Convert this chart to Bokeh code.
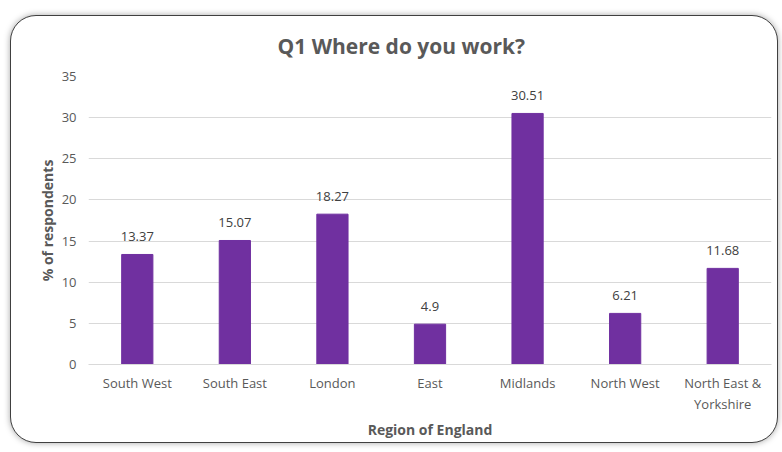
from bokeh.plotting import figure
from bokeh.models import ColumnDataSource, LabelSet, FixedTicker, Range1d
from bokeh.core.properties import value
from bokeh.embed import file_html
from bokeh.resources import INLINE

title_text = "Q1 Where do you work?"
regions = ["South West", "South East", "London", "East", "Midlands", "North West", "North East &\nYorkshire"]
percent = [13.37, 15.07, 18.27, 4.9, 30.51, 6.21, 11.68]
labels = ["13.37", "15.07", "18.27", "4.9", "30.51", "6.21", "11.68"]
y_ticks = [0, 5, 10, 15, 20, 25, 30, 35]

FONT = "Open Sans"
src = ColumnDataSource(data=dict(region=regions, pct=percent, lab=labels))

p = figure(x_range=regions, y_range=Range1d(0, 35), width=768, height=428,
           output_backend="svg", toolbar_location=None, title=title_text)
p.styles = {"border": "1.5px solid #404040", "border-radius": "26px",
            "box-shadow": "0px 0px 6px rgba(0,0,0,0.35)", "overflow": "hidden",
            "background": "white", "margin-left": "10px", "margin-top": "15px"}

p.vbar(x="region", top="pct", width=0.32, source=src, color="#7030A0")
p.add_layout(LabelSet(x="region", y="pct", text="lab", source=src, y_offset=13,
                      text_align="center", text_font_size="13px", text_font=value(FONT),
                      text_color="#404040"))

p.title.align = "left"
p.title.offset = 189
p.title.vertical_align = "top"
p.title.standoff = 30
p.title.text_font = FONT
p.title.text_font_size = "21px"
p.title.text_color = "#595959"
p.title.text_font_style = "bold"

p.min_border_left = 77
p.min_border_right = 8
p.min_border_top = 10
p.min_border_bottom = 80

p.outline_line_color = None
p.background_fill_color = None
p.border_fill_color = None

p.xgrid.grid_line_color = None
p.ygrid.grid_line_color = "#d9d9d9"
p.yaxis.ticker = FixedTicker(ticks=y_ticks)

for ax in (p.xaxis, p.yaxis):
    ax.major_tick_line_color = None
    ax.minor_tick_line_color = None
    ax.major_label_text_font = FONT
    ax.major_label_text_font_size = "13px"
    ax.major_label_text_color = "#595959"
    ax.axis_label_text_font = FONT
    ax.axis_label_text_font_size = "14px"
    ax.axis_label_text_font_style = "bold"
    ax.axis_label_text_color = "#595959"

p.yaxis.axis_line_color = None
p.xaxis.axis_line_color = "#d9d9d9"
p.yaxis.axis_label = "% of respondents"
p.xaxis.axis_label = "Region of England"
p.yaxis.major_label_standoff = 6
p.yaxis.axis_label_standoff = 2
p.xaxis.major_label_standoff = 3
p.xaxis.axis_label_standoff = 4

open("out.html", "w").write(file_html(p, INLINE))
